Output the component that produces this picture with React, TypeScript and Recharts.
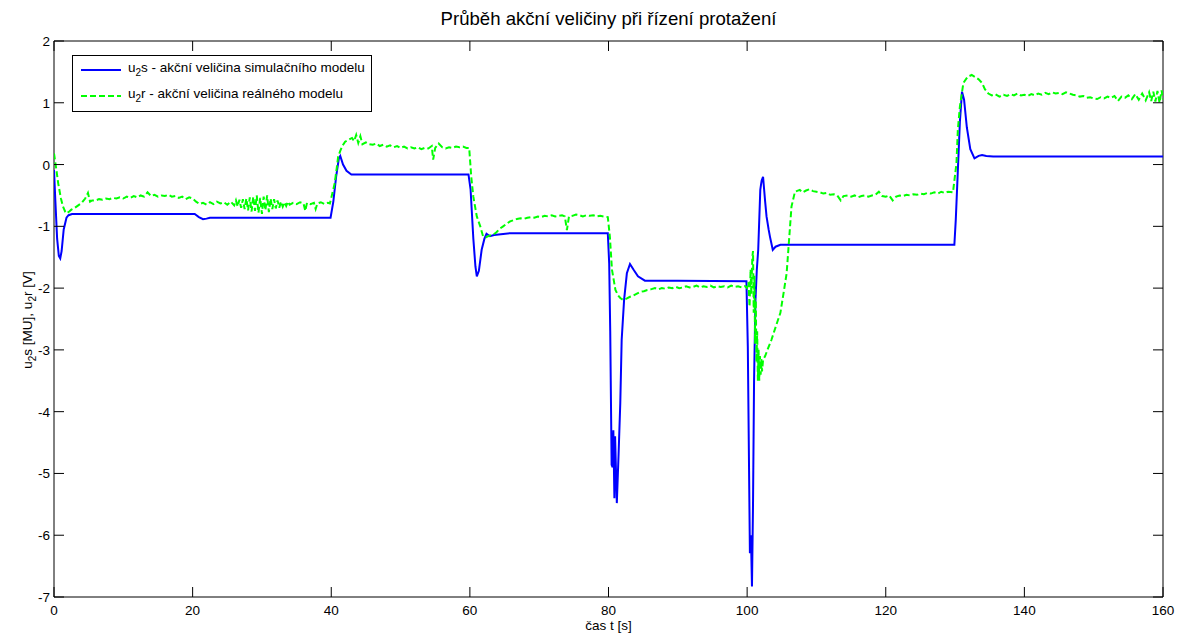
import { LineChart, Line, XAxis, YAxis, ReferenceArea } from "recharts";

// u2s - simulation model (t [s], value)
const simSeries: [number, number][] = [
  [0, -0.09], [0.2, -0.6], [0.45, -1.2], [0.7, -1.48], [0.9, -1.52], [1.1, -1.4], [1.4, -1.05], [1.8, -0.86],
  [2.1, -0.82], [2.6, -0.8], [10, -0.8], [20.3, -0.8], [20.9, -0.85], [21.5, -0.885], [22, -0.875], [22.5, -0.86],
  [30, -0.86], [39.9, -0.86], [40.3, -0.6], [40.7, -0.2], [41.1, 0.1], [41.3, 0.14], [41.7, 0.0], [42.2, -0.1],
  [42.9, -0.16], [50, -0.16], [59.8, -0.16], [60.1, -0.4], [60.5, -1.2], [60.8, -1.65], [61.0, -1.81], [61.3, -1.72],
  [61.7, -1.38], [62.1, -1.2], [62.4, -1.12], [62.9, -1.16], [63.5, -1.14], [65.8, -1.11], [70, -1.11], [79.9, -1.11],
  [80.1, -1.6], [80.25, -2.7], [80.45, -4.86], [80.6, -4.9], [80.7, -4.3], [80.85, -5.4], [80.95, -4.4], [81.2, -5.48],
  [81.45, -4.7], [81.7, -3.86], [81.9, -2.84], [82.25, -2.19], [82.65, -1.76], [83.1, -1.61], [83.6, -1.7], [84.25, -1.81],
  [85.25, -1.88], [90, -1.88], [99.9, -1.89], [100.1, -2.95], [100.4, -6.29], [100.55, -6.0], [100.7, -6.83], [100.85, -5.5],
  [101.0, -3.5], [101.2, -2.2], [101.4, -1.7], [101.6, -1.38], [101.9, -0.41], [102.0, -0.33], [102.1, -0.26], [102.3, -0.2],
  [102.45, -0.4], [102.6, -0.6], [102.8, -0.84], [103.1, -1.05], [103.3, -1.17], [103.7, -1.38], [104.1, -1.33], [104.8, -1.3],
  [110, -1.3], [129.9, -1.3], [130.1, -0.9], [130.4, -0.1], [130.7, 0.7], [131.0, 1.18], [131.3, 1.05], [131.7, 0.6],
  [132.2, 0.25], [132.8, 0.1], [133.4, 0.14], [133.9, 0.155], [134.5, 0.14], [135.5, 0.13], [145, 0.13], [160, 0.13],
];

// u2r - real model (t [s], value)
const realSeries: [number, number][] = [
  [0, 0.18], [0.3, -0.05], [0.6, -0.3], [1, -0.55], [1.3, -0.68], [1.6, -0.76], [1.8, -0.79], [2.2, -0.76],
  [2.5, -0.73], [3, -0.7], [3.5, -0.66], [4, -0.62], [4.5, -0.55], [4.9, -0.46], [5.2, -0.6], [5.5, -0.58],
  [6, -0.58], [6.5, -0.56], [7, -0.57], [7.5, -0.55], [8, -0.56], [8.5, -0.54], [9, -0.55], [9.5, -0.53],
  [10, -0.55], [10.5, -0.52], [11, -0.54], [11.5, -0.51], [12, -0.53], [12.5, -0.5], [13, -0.52], [13.5, -0.45],
  [14, -0.51], [14.5, -0.49], [15, -0.52], [15.5, -0.5], [16, -0.51], [16.5, -0.49], [17, -0.52], [17.5, -0.51],
  [18, -0.54], [18.5, -0.52], [19, -0.56], [19.5, -0.53], [20, -0.55], [20.5, -0.6], [21, -0.64], [21.5, -0.62],
  [22, -0.65], [22.5, -0.61], [23, -0.64], [23.5, -0.6], [24, -0.63], [24.5, -0.61], [25, -0.65], [25.5, -0.6],
  [26, -0.66], [26.25, -0.58], [26.5, -0.68], [26.75, -0.57], [27, -0.7], [27.25, -0.56], [27.5, -0.72], [27.75, -0.55],
  [28, -0.74], [28.25, -0.53], [28.5, -0.76], [28.75, -0.52], [29, -0.75], [29.25, -0.5], [29.5, -0.78], [29.75, -0.54],
  [30, -0.8], [30.25, -0.52], [30.5, -0.74], [30.75, -0.5], [31, -0.77], [31.25, -0.55], [31.5, -0.72], [31.75, -0.56],
  [32, -0.71], [32.25, -0.58], [32.5, -0.7], [32.75, -0.6], [33, -0.68], [33.25, -0.61], [33.5, -0.67], [33.75, -0.6],
  [34, -0.65], [34.5, -0.62], [35, -0.64], [35.5, -0.61], [36, -0.63], [36.25, -0.75], [36.5, -0.62], [37, -0.64],
  [37.5, -0.62], [37.75, -0.72], [38, -0.63], [38.5, -0.61], [39, -0.64], [39.5, -0.62], [39.8, -0.63], [40.2, -0.45],
  [40.5, -0.3], [40.8, -0.05], [41, 0.13], [41.3, 0.22], [41.6, 0.3], [42, 0.37], [42.5, 0.4], [43, 0.43],
  [43.3, 0.38], [43.6, 0.48], [43.9, 0.35], [44.2, 0.46], [44.5, 0.33], [45, 0.36], [45.5, 0.33], [46, 0.32],
  [46.5, 0.34], [47, 0.3], [47.5, 0.32], [48, 0.29], [48.5, 0.31], [49, 0.28], [49.5, 0.3], [50, 0.27],
  [50.5, 0.29], [51, 0.26], [51.5, 0.28], [52, 0.26], [52.5, 0.28], [53, 0.25], [53.5, 0.27], [54, 0.26],
  [54.5, 0.3], [54.7, 0.08], [55, 0.27], [55.5, 0.34], [56, 0.28], [56.5, 0.26], [57, 0.28], [57.5, 0.27],
  [58, 0.29], [58.5, 0.28], [59, 0.29], [59.5, 0.27], [59.9, 0.27], [60.2, -0.2], [60.5, -0.52], [61, -0.84],
  [61.5, -1.0], [61.9, -1.16], [62.3, -1.18], [62.8, -1.15], [63.3, -1.14], [63.8, -1.1], [64.3, -1.04], [64.8, -1.0],
  [65.3, -0.96], [65.8, -0.92], [66.3, -0.9], [66.8, -0.88], [67.3, -0.87], [67.8, -0.88], [68.3, -0.86], [68.8, -0.85],
  [69.3, -0.86], [69.8, -0.84], [70.3, -0.85], [70.8, -0.83], [71.3, -0.84], [71.8, -0.82], [72.3, -0.84], [72.8, -0.83],
  [73.3, -0.82], [73.7, -0.84], [74, -1.06], [74.3, -0.84], [74.8, -0.83], [75.3, -0.81], [75.8, -0.82], [76.3, -0.84],
  [76.8, -0.82], [77.3, -0.83], [77.8, -0.82], [78.3, -0.84], [78.8, -0.83], [79.3, -0.84], [79.9, -0.85], [80.2, -1.17],
  [80.5, -1.7], [81, -2.03], [81.4, -2.12], [81.7, -2.16], [82.1, -2.19], [82.6, -2.17], [83.1, -2.14], [83.6, -2.12],
  [84.1, -2.09], [84.6, -2.06], [85.1, -2.05], [85.6, -2.03], [86.1, -2.02], [86.7, -2.0], [87.2, -2.02], [87.7, -2.0],
  [88.2, -2.01], [88.7, -1.99], [89.2, -2.0], [89.7, -1.98], [90.2, -2.0], [90.7, -1.99], [91.2, -1.97], [91.7, -1.99],
  [92.2, -1.98], [92.7, -1.96], [93.2, -1.99], [93.7, -1.97], [94.2, -1.98], [94.7, -1.96], [95.2, -1.99], [95.7, -1.97],
  [96.2, -1.98], [96.7, -1.97], [97.2, -1.99], [97.7, -1.96], [98.2, -1.98], [98.7, -1.97], [99.2, -1.99], [99.7, -1.97],
  [100, -2.0], [100.2, -1.9], [100.35, -2.3], [100.5, -1.7], [100.6, -2.1], [100.75, -1.5], [100.85, -1.4], [100.95, -2.4],
  [101.05, -1.8], [101.15, -2.9], [101.25, -2.2], [101.35, -3.2], [101.45, -2.7], [101.55, -3.5], [101.65, -3.0], [101.75, -3.5],
  [101.85, -3.1], [101.95, -3.4], [102.05, -3.15], [102.15, -3.35], [102.3, -3.16], [102.6, -3.1], [103, -2.98], [103.5, -2.84],
  [104.2, -2.6], [104.8, -2.4], [105.3, -2.05], [105.7, -1.76], [106, -1.3], [106.4, -0.68], [106.9, -0.44], [107.6, -0.41],
  [108, -0.45], [108.5, -0.42], [109, -0.4], [109.5, -0.43], [110, -0.44], [110.5, -0.45], [111, -0.47], [111.5, -0.46],
  [112, -0.49], [112.5, -0.48], [113, -0.5], [113.5, -0.58], [113.9, -0.51], [114.5, -0.5], [115, -0.52], [115.5, -0.5],
  [116, -0.53], [116.5, -0.51], [117, -0.5], [117.5, -0.52], [118, -0.5], [118.5, -0.49], [119, -0.44], [119.5, -0.51],
  [120, -0.52], [120.5, -0.5], [121, -0.58], [121.5, -0.52], [122, -0.5], [122.5, -0.51], [123, -0.49], [123.5, -0.5],
  [124, -0.48], [124.5, -0.49], [125, -0.47], [125.5, -0.48], [126, -0.46], [126.5, -0.47], [127, -0.45], [127.5, -0.47],
  [128, -0.44], [128.5, -0.46], [129, -0.44], [129.7, -0.45], [130.2, 0.02], [130.4, 0.56], [130.7, 0.94], [131.2, 1.32],
  [131.8, 1.42], [132.4, 1.45], [133, 1.41], [133.4, 1.38], [133.9, 1.32], [134.3, 1.22], [134.8, 1.15], [135.3, 1.12],
  [135.8, 1.14], [136.4, 1.1], [137, 1.13], [137.5, 1.11], [138, 1.14], [138.5, 1.12], [139, 1.15], [139.5, 1.12],
  [140, 1.13], [140.5, 1.11], [141, 1.14], [141.5, 1.12], [142, 1.15], [142.5, 1.13], [143, 1.16], [143.5, 1.14],
  [144, 1.17], [144.5, 1.15], [145, 1.16], [145.5, 1.14], [146, 1.17], [146.5, 1.15], [147, 1.13], [147.5, 1.12],
  [148, 1.1], [148.5, 1.11], [149, 1.08], [149.5, 1.09], [150, 1.07], [150.5, 1.06], [151, 1.09], [151.5, 1.07],
  [152, 1.1], [152.5, 1.08], [153, 1.11], [153.5, 1.03], [154, 1.1], [154.5, 1.08], [155, 1.12], [155.5, 1.06],
  [156, 1.14], [156.5, 1.05], [157, 1.15], [157.5, 1.04], [158, 1.17], [158.3, 1.03], [158.6, 1.18], [158.9, 1.02],
  [159.2, 1.19], [159.5, 1.0], [159.8, 1.2], [160, 1.05],
];

const xTicks = [0, 20, 40, 60, 80, 100, 120, 140, 160];
const yTicks = [-7, -6, -5, -4, -3, -2, -1, 0, 1, 2];

const W = 1184;
const H = 635;
const PLOT = { left: 54, right: 1163, top: 41, bottom: 597 };
const TICK = 10;
const FONT = "Liberation Sans, Arial, sans-serif";
const FS = 13.5;

const simData = simSeries.map(([t, v]) => ({ t, v }));
const realData = realSeries.map(([t, v]) => ({ t, v }));

function XTick(props: any) {
  const x = props.x;
  return (
    <g>
      <line x1={x} x2={x} y1={PLOT.bottom} y2={PLOT.bottom - TICK} stroke="#000" />
      <line x1={x} x2={x} y1={PLOT.top} y2={PLOT.top + TICK} stroke="#000" />
      <text x={x} y={PLOT.bottom + 18} textAnchor="middle" fontSize={FS} fontFamily={FONT} fill="#000">
        {props.payload.value}
      </text>
    </g>
  );
}

function YTick(props: any) {
  const y = props.y;
  return (
    <g>
      <line x1={PLOT.left} x2={PLOT.left + TICK} y1={y} y2={y} stroke="#000" />
      <line x1={PLOT.right} x2={PLOT.right - TICK} y1={y} y2={y} stroke="#000" />
      <text x={PLOT.left - 4} y={y + 5} textAnchor="end" fontSize={FS} fontFamily={FONT} fill="#000">
        {props.payload.value}
      </text>
    </g>
  );
}

const sub = <sub style={{ fontSize: 10, verticalAlign: -4 }}>2</sub>;

export default function App() {
  return (
    <div style={{ position: "absolute", left: 0, top: 0, width: W, height: H, background: "#fff", fontFamily: FONT }}>
      <div style={{
        position: "absolute", left: PLOT.left, width: PLOT.right - PLOT.left, top: 8,
        textAlign: "center", fontSize: 18.6, lineHeight: "22px", color: "#000",
      }}>
        Průběh akční veličiny při řízení protažení
      </div>

      <LineChart
        width={W}
        height={H}
        margin={{ top: PLOT.top, right: W - PLOT.right, bottom: 0, left: 0 }}
      >
        <XAxis
          type="number"
          dataKey="t"
          domain={[0, 160]}
          ticks={xTicks}
          interval={0}
          height={H - PLOT.bottom}
          axisLine={false}
          tickLine={false}
          tick={<XTick />}
          allowDataOverflow
        />
        <YAxis
          type="number"
          domain={[-7, 2]}
          ticks={yTicks}
          interval={0}
          width={PLOT.left}
          axisLine={false}
          tickLine={false}
          tick={<YTick />}
          allowDataOverflow
        />
        <ReferenceArea x1={0} x2={160} y1={-7} y2={2} fill="none" stroke="#000" strokeWidth={1} />
        <Line
          data={simData}
          dataKey="v"
          type="linear"
          stroke="#0000ff"
          strokeWidth={2}
          dot={false}
          isAnimationActive={false}
        />
        <Line
          data={realData}
          dataKey="v"
          type="linear"
          stroke="#00ff00"
          strokeWidth={2}
          strokeDasharray="6 3"
          dot={false}
          isAnimationActive={false}
        />
      </LineChart>

      <div style={{
        position: "absolute", left: 72, top: 55, width: 300, height: 57,
        border: "1px solid #000", background: "#fff", boxSizing: "border-box", fontSize: FS, color: "#000",
      }}>
        {[
          { label: "s - akční veličina simulačního modelu", color: "#0000ff", dash: undefined },
          { label: "r - akční veličina reálného modelu", color: "#00ff00", dash: "6 3" },
        ].map((item, i) => (
          <div key={i} style={{ position: "absolute", left: 7, top: 6 + i * 26, height: 16, display: "flex", alignItems: "center" }}>
            <svg width={42} height={16}>
              <line x1={1} x2={41} y1={8} y2={8} stroke={item.color} strokeWidth={2} strokeDasharray={item.dash} />
            </svg>
            <span style={{ marginLeft: 6, whiteSpace: "nowrap", lineHeight: "16px" }}>
              u{sub}{item.label}
            </span>
          </div>
        ))}
      </div>

      <div style={{
        position: "absolute", left: PLOT.left, width: PLOT.right - PLOT.left, top: 618,
        textAlign: "center", fontSize: FS, lineHeight: "16px", color: "#000",
      }}>
        čas t [s]
      </div>

      <div style={{
        position: "absolute", left: 30, top: 320, fontSize: FS, lineHeight: "16px", color: "#000", whiteSpace: "nowrap",
        transform: "translate(-50%, -50%) rotate(-90deg)",
      }}>
        u{sub}s [MU], u{sub}r [V]
      </div>
    </div>
  );
}
